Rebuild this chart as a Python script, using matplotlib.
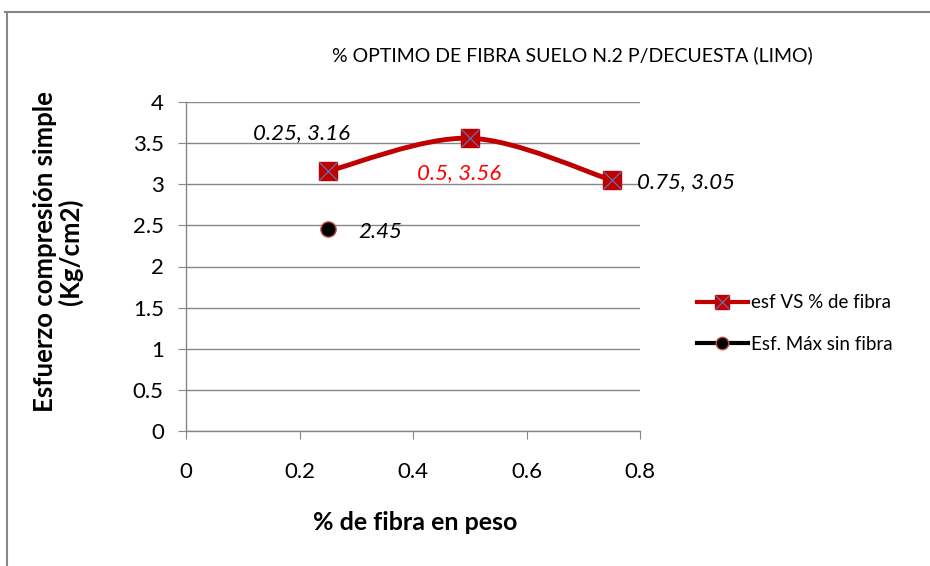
import numpy as np
import matplotlib.pyplot as plt
from matplotlib.path import Path
from matplotlib.patches import PathPatch
from matplotlib.lines import Line2D

plt.rcParams['font.family'] = ['Lato', 'DejaVu Sans']

fibra = [0.25, 0.5, 0.75]
esfuerzo = [3.16, 3.56, 3.05]
sin_fibra_x = [0.25]
sin_fibra_y = [2.45]
etiquetas = ['0.25, 3.16', '0.5, 3.56', '0.75, 3.05']
etiqueta_sin = '2.45'

titulo = '% OPTIMO DE FIBRA SUELO N.2 P/DECUESTA (LIMO)'
ylabel = 'Esfuerzo compresión simple\n(Kg/cm2)'
xlabel = '% de fibra en peso'
leyenda = ['esf VS % de fibra', 'Esf. Máx sin fibra']

rojo = '#C00000'
gris = '#868686'

fig = plt.figure(figsize=(9.3, 5.66), dpi=100)
ax = fig.add_axes([186/930, 1 - 431/566, 454/930, 329/566])

# marco de la figura (solo arriba e izquierda visibles)
fig.add_artist(Line2D([5/930, 1], [1 - 12/566, 1 - 12/566], color=gris, lw=1.5))
fig.add_artist(Line2D([7/930, 7/930], [0, 1 - 12/566], color=gris, lw=1.5))

# curva suavizada tipo excel (bezier entre los puntos)
pts = np.column_stack([fibra, esfuerzo])
verts = [pts[0]]
codes = [Path.MOVETO]
n = len(pts)
for i in range(n - 1):
    p0 = pts[max(i - 1, 0)]
    p1 = pts[i]
    p2 = pts[i + 1]
    p3 = pts[min(i + 2, n - 1)]
    c1 = p1 + (p2 - p0) / 6
    c2 = p2 - (p3 - p1) / 6
    verts += [c1, c2, p2]
    codes += [Path.CURVE4] * 3
ax.add_patch(PathPatch(Path(verts, codes), fc='none', ec=rojo, lw=3.5,
                       capstyle='round', zorder=3))

ax.plot(fibra, esfuerzo, ls='none', marker='s', ms=13, mfc=rojo, mec=rojo, zorder=4)
ax.plot(fibra, esfuerzo, ls='none', marker='x', ms=13, mec='#5A7DB5', mew=0.8, zorder=5)
ax.plot(sin_fibra_x, sin_fibra_y, ls='none', marker='o', ms=11, mfc='black',
        mec='#C05050', mew=1, zorder=4)

# etiquetas de datos
fs_lab = 16
ax.text(fibra[0] - 0.046, esfuerzo[0] + 0.46, etiquetas[0], fontsize=fs_lab, style='italic',
        ha='center', va='center')
ax.text(fibra[1] - 0.018, esfuerzo[1] - 0.42, etiquetas[1], fontsize=fs_lab, style='italic',
        color='red', ha='center', va='center')
ax.text(fibra[2] + 0.044, esfuerzo[2] - 0.02, etiquetas[2], fontsize=fs_lab, style='italic',
        ha='left', va='center')
ax.text(sin_fibra_x[0] + 0.053, sin_fibra_y[0] - 0.03, etiqueta_sin, fontsize=fs_lab,
        style='italic', ha='left', va='center')

ax.set_xlim(0, 0.8)
ax.set_ylim(0, 4)
ax.set_xticks(np.arange(0, 0.81, 0.2))
ax.set_xticklabels(['0', '0.2', '0.4', '0.6', '0.8'])
ax.set_yticks(np.arange(0, 4.01, 0.5))
ax.set_yticklabels(['0', '0.5', '1', '1.5', '2', '2.5', '3', '3.5', '4'])
ax.grid(axis='y', color=gris, lw=1)
ax.set_axisbelow(True)
for s in ['top', 'right']:
    ax.spines[s].set_visible(False)
for s in ['left', 'bottom']:
    ax.spines[s].set_color(gris)
    ax.spines[s].set_linewidth(1)
ax.tick_params(axis='both', colors=gris, labelcolor='black', labelsize=16, length=6)
ax.tick_params(axis='x', pad=16)
ax.tick_params(axis='y', pad=10)

fig.text(415/930, 1 - 523/566, xlabel, fontsize=18, fontweight='bold',
         ha='center', va='center')
fig.text(58/930, 1 - 252/566, ylabel, fontsize=18.5, fontweight='bold',
         ha='center', va='center', rotation=90, linespacing=1.05)
fig.text(572/930, 1 - 55/566, titulo, fontsize=14, ha='center', va='center')

h1 = (Line2D([], [], color=rojo, lw=3, marker='s', ms=10, mfc=rojo, mec=rojo),
      Line2D([], [], ls='none', marker='x', ms=10, mec='#5A7DB5', mew=0.8))
h2 = Line2D([], [], color='black', lw=3, marker='o', ms=9, mfc='black', mec='#C05050')
fig.legend([h1, h2], leyenda, loc='center left', bbox_to_anchor=(697/930, 1 - 323.5/566),
           frameon=False, fontsize=13.5, handlelength=2.7, handletextpad=0.2,
           labelspacing=1.3, borderpad=0, borderaxespad=0)

fig.savefig('out.png', dpi=100)
